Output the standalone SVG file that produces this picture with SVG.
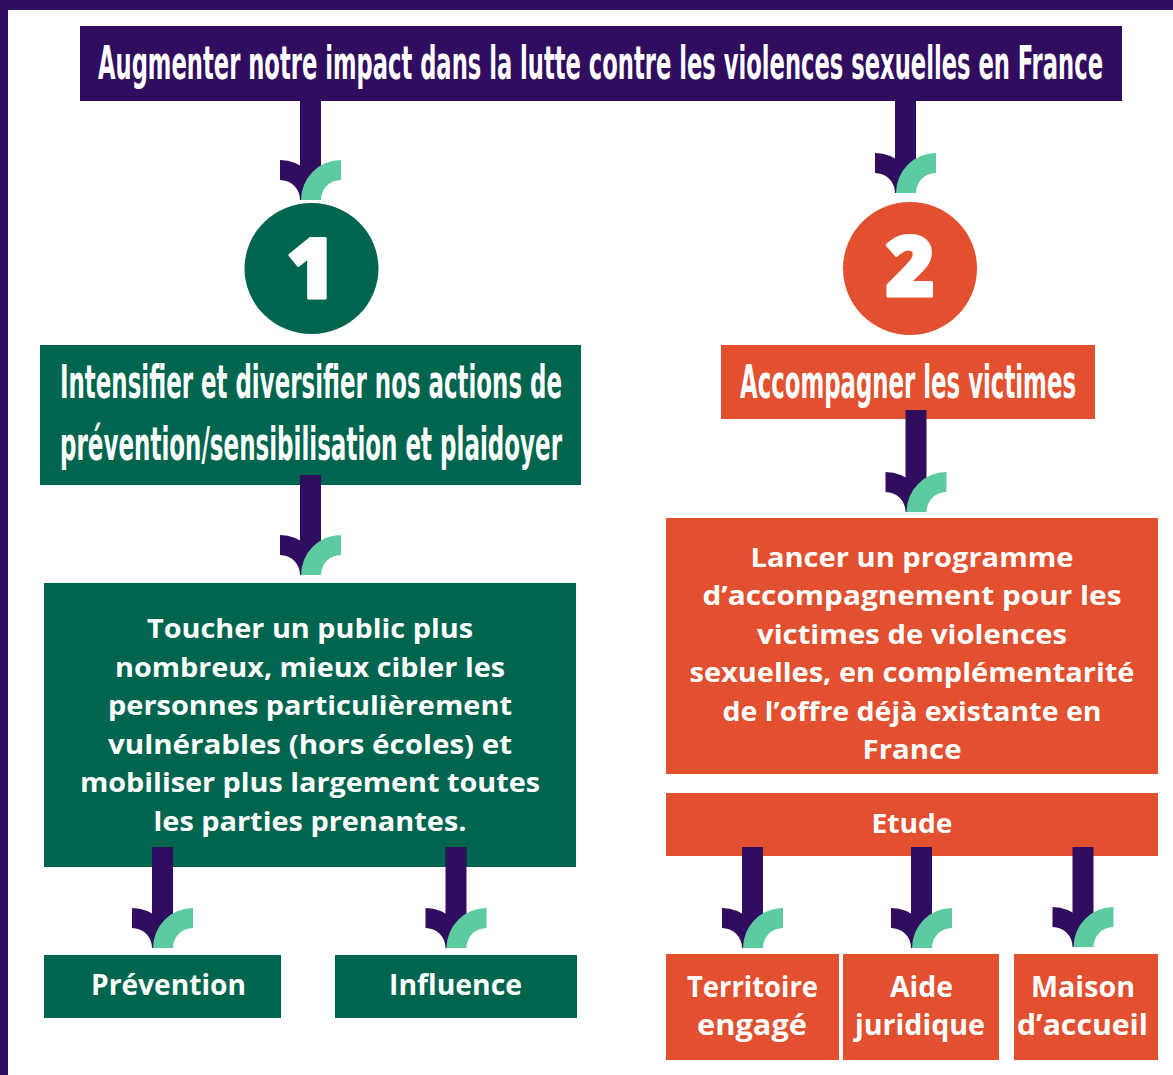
<svg xmlns="http://www.w3.org/2000/svg" xmlns:xlink="http://www.w3.org/1999/xlink" width="1173" height="1075" viewBox="0 0 1173 1075">
<style>
.purple{fill:#310D5F}
.teal{fill:#00654F}
.orange{fill:#E2502F}
.cond{font-family:"DejaVu Sans Condensed","DejaVu Sans",sans-serif;font-weight:bold;fill:#fff;font-size:24px}
.body{font-family:"Open Sans","Noto Sans",sans-serif;font-weight:bold;fill:#fff;font-size:27px;text-anchor:middle}
.lbl{font-family:"Open Sans","Noto Sans",sans-serif;font-weight:bold;fill:#fff;font-size:28px;text-anchor:middle}
.digit{font-family:"Open Sans","Noto Sans",sans-serif;font-weight:800;fill:#fff;stroke:#fff;stroke-width:3;stroke-linejoin:round;font-size:84px;text-anchor:middle}
</style>
<defs>
<g id="head">
<path fill="#310D5F" d="M-30.5,-40 A40,40 0 0 1 9.5,0 L-10.5,0 A20,20 0 0 0 -30.5,-20 Z"/>
<path fill="#5CCB9F" d="M30.5,-40 A40,40 0 0 0 -9.5,0 L10.5,0 A20,20 0 0 1 30.5,-20 Z"/>
</g>
</defs>
<rect width="1173" height="1075" fill="#fff"/>
<g id="border">
<rect class="purple" x="0" y="0" width="1173" height="10"/>
<rect class="purple" x="0" y="0" width="8" height="1075"/>
</g>
<g id="title">
<rect class="purple" x="80" y="26" width="1042" height="75"/>
<text class="cond" transform="translate(98,79) scale(1,1.92)" x="0" y="0" textLength="1005" lengthAdjust="spacingAndGlyphs">Augmenter notre impact dans la lutte contre les violences sexuelles en France</text>
</g>
<g id="circle1">
<ellipse class="teal" cx="311.5" cy="268.5" rx="67" ry="65.5"/>
<text class="digit" x="311" y="298">1</text>
</g>
<g id="circle2">
<ellipse class="orange" cx="910" cy="268.5" rx="67" ry="66.5"/>
<text class="digit" x="910" y="296">2</text>
</g>
<g id="axis1">
<rect class="teal" x="40" y="345" width="541" height="140"/>
<text class="cond" transform="translate(60,398) scale(1,1.92)" x="0" y="0" textLength="502" lengthAdjust="spacingAndGlyphs">Intensifier et diversifier nos actions de</text>
<text class="cond" transform="translate(60,460) scale(1,1.92)" x="0" y="0" textLength="502" lengthAdjust="spacingAndGlyphs">prévention/sensibilisation et plaidoyer</text>
</g>
<g id="axis2">
<rect class="orange" x="721" y="345" width="374" height="74"/>
<text class="cond" transform="translate(740,398) scale(1,1.92)" x="0" y="0" textLength="336" lengthAdjust="spacingAndGlyphs">Accompagner les victimes</text>
</g>
<g id="goal1">
<rect class="teal" x="44" y="583" width="532" height="284"/>
<text class="body" x="310" y="638" textLength="326" lengthAdjust="spacingAndGlyphs">Toucher un public plus</text>
<text class="body" x="310" y="677" textLength="390" lengthAdjust="spacingAndGlyphs">nombreux, mieux cibler les</text>
<text class="body" x="310" y="715" textLength="404" lengthAdjust="spacingAndGlyphs">personnes particulièrement</text>
<text class="body" x="310" y="754" textLength="404" lengthAdjust="spacingAndGlyphs">vulnérables (hors écoles) et</text>
<text class="body" x="310" y="792" textLength="460" lengthAdjust="spacingAndGlyphs">mobiliser plus largement toutes</text>
<text class="body" x="310" y="831" textLength="313" lengthAdjust="spacingAndGlyphs">les parties prenantes.</text>
</g>
<g id="goal2">
<rect class="orange" x="666" y="518" width="492" height="256"/>
<text class="body" x="912" y="567" textLength="323" lengthAdjust="spacingAndGlyphs">Lancer un programme</text>
<text class="body" x="912" y="605" textLength="419" lengthAdjust="spacingAndGlyphs">d’accompagnement pour les</text>
<text class="body" x="912" y="644" textLength="310" lengthAdjust="spacingAndGlyphs">victimes de violences</text>
<text class="body" x="912" y="682" textLength="445" lengthAdjust="spacingAndGlyphs">sexuelles, en complémentarité</text>
<text class="body" x="912" y="721" textLength="379" lengthAdjust="spacingAndGlyphs">de l’offre déjà existante en</text>
<text class="body" x="912" y="759" textLength="99" lengthAdjust="spacingAndGlyphs">France</text>
</g>
<g id="etude">
<rect class="orange" x="666" y="793" width="492" height="63"/>
<text class="body" x="912" y="833" textLength="81" lengthAdjust="spacingAndGlyphs">Etude</text>
</g>
<g id="prevention">
<rect class="teal" x="44" y="955" width="237" height="63"/>
<text class="lbl" x="168.5" y="995" textLength="155" lengthAdjust="spacingAndGlyphs">Prévention</text>
</g>
<g id="influence">
<rect class="teal" x="335" y="955" width="242" height="63"/>
<text class="lbl" x="455.5" y="995" textLength="133" lengthAdjust="spacingAndGlyphs">Influence</text>
</g>
<g id="territoire">
<rect class="orange" x="666" y="954" width="173" height="106"/>
<text class="lbl" x="752.5" y="997" textLength="131" lengthAdjust="spacingAndGlyphs">Territoire</text>
<text class="lbl" x="752" y="1035" textLength="110" lengthAdjust="spacingAndGlyphs">engagé</text>
</g>
<g id="aide">
<rect class="orange" x="843" y="954" width="156" height="106"/>
<text class="lbl" x="921.5" y="997" textLength="63" lengthAdjust="spacingAndGlyphs">Aide</text>
<text class="lbl" x="920" y="1035" textLength="130" lengthAdjust="spacingAndGlyphs">juridique</text>
</g>
<g id="maison">
<rect class="orange" x="1014" y="954" width="144" height="106"/>
<text class="lbl" x="1083" y="997" textLength="104" lengthAdjust="spacingAndGlyphs">Maison</text>
<text class="lbl" x="1082.5" y="1035" textLength="131" lengthAdjust="spacingAndGlyphs">d’accueil</text>
</g>
<g id="connectors">
<rect class="purple" x="300" y="100" width="21" height="85"/><use xlink:href="#head" transform="translate(310.5,200)"/>
<rect class="purple" x="895" y="100" width="21" height="78"/><use xlink:href="#head" transform="translate(905.5,193)"/>
<rect class="purple" x="300" y="475" width="21" height="85"/><use xlink:href="#head" transform="translate(310.5,575)"/>
<rect class="purple" x="905.5" y="410" width="21" height="87"/><use xlink:href="#head" transform="translate(916,512)"/>
<rect class="purple" x="152" y="847" width="21" height="86"/><use xlink:href="#head" transform="translate(162.5,948)"/>
<rect class="purple" x="445.5" y="847" width="21" height="86"/><use xlink:href="#head" transform="translate(456,948)"/>
<rect class="purple" x="742" y="847" width="21" height="86"/><use xlink:href="#head" transform="translate(752.5,948)"/>
<rect class="purple" x="911" y="847" width="21" height="86"/><use xlink:href="#head" transform="translate(921.5,948)"/>
<rect class="purple" x="1072.5" y="847" width="21" height="85"/><use xlink:href="#head" transform="translate(1083,947)"/>
</g>
</svg>
